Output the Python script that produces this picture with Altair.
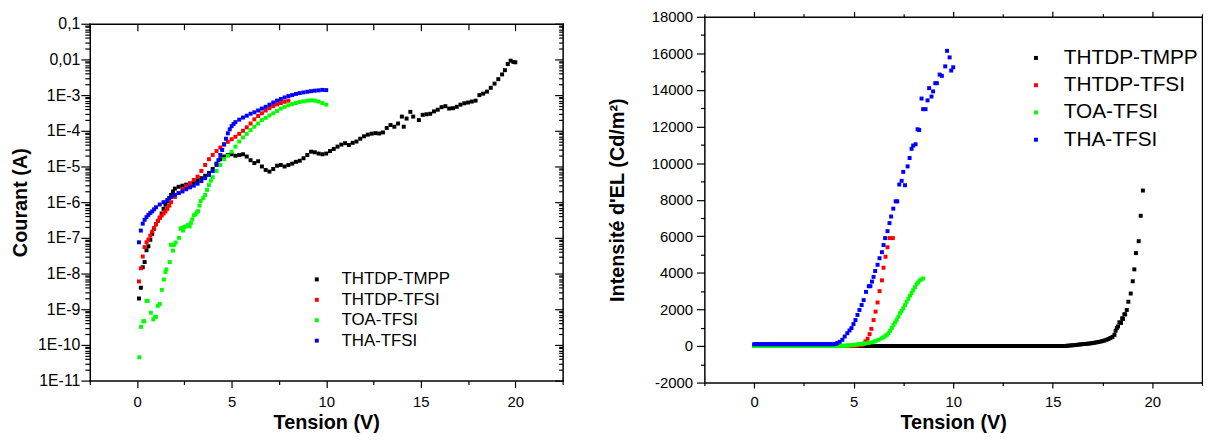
import altair as alt
import pandas as pd

SERIES = ["THTDP-TMPP", "THTDP-TFSI", "TOA-TFSI", "THA-TFSI"]
COLORS = ["#000000", "#ff0000", "#00ff00", "#0000ff"]

# ---- left panel: current (A) vs voltage (V) ----
TMPP_IV = [(0.1,2.0e-9),(0.2,4.0e-9),(0.3,1.5e-8),(0.4,2.1e-8),(0.5,4.5e-8),(0.6,5.8e-8),(0.7,8.8e-8),(0.8,1.3e-7),
 (0.9,1.8e-7),(1.0,2.4e-7),(1.1,3.0e-7),(1.2,3.7e-7),(1.3,4.8e-7),(1.4,6.5e-7),(1.5,8.5e-7),(1.6,1.05e-6),(1.7,1.3e-6),
 (1.8,1.6e-6),(1.9,2.0e-6),(2.0,2.4e-6),(2.2,2.7e-6),(2.4,2.9e-6),(2.6,3.1e-6),(2.8,3.3e-6),(3.0,3.6e-6),(3.2,4.1e-6),
 (3.4,4.7e-6),(3.6,5.5e-6),(3.8,6.6e-6),(4.0,8.5e-6),(4.2,1.2e-5),(4.4,1.6e-5),(4.6,1.9e-5),(4.8,2.1e-5),(5.0,2.2e-5),
 (5.2,2.0e-5),(5.4,2.1e-5),(5.6,2.2e-5),(5.8,1.9e-5),(6.0,1.5e-5),(6.2,1.25e-5),(6.4,1.4e-5),(6.6,1.0e-5),(6.8,8.0e-6),
 (7.0,7.2e-6),(7.2,8.5e-6),(7.4,1.05e-5),(7.6,1.1e-5),(7.8,1.0e-5),(8.0,1.1e-5),(8.2,1.2e-5),(8.4,1.35e-5),(8.6,1.45e-5),
 (8.8,1.7e-5),(9.0,2.1e-5),(9.2,2.6e-5),(9.4,2.5e-5),(9.6,2.3e-5),(9.8,2.2e-5),(10.0,2.3e-5),(10.2,2.7e-5),(10.4,3.1e-5),
 (10.6,3.6e-5),(10.8,4.1e-5),(11.0,4.5e-5),(11.2,4.0e-5),(11.4,4.6e-5),(11.6,5.0e-5),(11.8,6.0e-5),(12.0,7.0e-5),
 (12.2,7.8e-5),(12.4,8.3e-5),(12.6,8.6e-5),(12.8,8.4e-5),(13.0,9.0e-5),(13.2,1.2e-4),(13.4,1.45e-4),(13.6,1.3e-4),
 (13.8,1.6e-4),(14.0,2.5e-4),(14.1,1.3e-4),(14.25,2.2e-4),(14.45,3.4e-4),(14.6,2.5e-4),(14.9,2.0e-4),(15.1,2.8e-4),
 (15.3,2.9e-4),(15.5,3.0e-4),(15.7,3.5e-4),(15.9,3.9e-4),(16.1,4.6e-4),(16.3,4.9e-4),(16.5,4.2e-4),(16.7,4.3e-4),
 (16.9,4.7e-4),(17.1,5.4e-4),(17.3,5.9e-4),(17.5,6.2e-4),(17.7,6.6e-4),(17.9,7.0e-4),(18.1,1.0e-3),(18.3,1.1e-3),
 (18.5,1.25e-3),(18.7,1.6e-3),(18.9,2.1e-3),(19.1,2.8e-3),(19.3,3.8e-3),(19.45,5.0e-3),(19.6,7.4e-3),(19.75,9.2e-3),
 (19.9,8.5e-3),(20.0,8.3e-3)]

TFSI_IV = [(0.1,6.0e-9),(0.2,1.4e-8),(0.3,3.0e-8),(0.4,5.5e-8),(0.5,7.5e-8),(0.6,9.0e-8),(0.7,1.15e-7),(0.8,1.5e-7),
 (0.9,1.9e-7),(1.0,2.4e-7),(1.1,3.0e-7),(1.2,3.6e-7),(1.3,4.2e-7),(1.4,4.8e-7),(1.5,5.5e-7),(1.6,6.5e-7),(1.7,8.0e-7),
 (1.8,1.0e-6),(2.0,1.4e-6),(2.2,1.8e-6),(2.4,2.3e-6),(2.6,2.8e-6),(2.8,3.4e-6),(3.0,4.2e-6),(3.2,5.2e-6),(3.4,7.5e-6),
 (3.6,1.1e-5),(3.8,1.6e-5),(4.0,2.1e-5),(4.2,2.7e-5),(4.4,3.4e-5),(4.6,4.1e-5),(4.8,4.9e-5),(5.0,5.8e-5),(5.2,6.8e-5),
 (5.4,8.2e-5),(5.6,1.0e-4),(5.8,1.25e-4),(6.0,1.6e-4),(6.2,2.1e-4),(6.4,2.6e-4),(6.6,3.1e-4),(6.8,3.7e-4),(7.0,4.3e-4),
 (7.2,4.9e-4),(7.4,5.5e-4),(7.6,6.0e-4),(7.8,6.5e-4),(8.0,7.0e-4)]

TOA_IV = [(0.12,4.5e-11),(0.21,3.2e-10),(0.33,4.6e-10),(0.38,4.6e-10),(0.5,1.7e-9),(0.56,1.7e-9),(0.73,8.0e-10),
 (0.86,5.2e-10),(0.95,6.0e-10),(1.0,6.1e-10),(1.1,1.25e-9),(1.2,1.4e-9),(1.31,3.5e-9),(1.42,6.8e-9),(1.5,1.1e-8),
 (1.55,1.3e-8),(1.73,2.1e-8),(1.78,6.4e-8),(1.9,4.4e-8),(1.96,6.4e-8),(2.04,7.4e-8),(2.22,1.0e-7),(2.3,1.8e-7),
 (2.36,1.9e-7),(2.43,1.6e-7),(2.5,2.0e-7),(2.57,2.1e-7),(2.7,2.3e-7),(2.78,2.1e-7),(2.85,2.6e-7),(2.92,3.3e-7),
 (3.0,4.3e-7),(3.09,4.6e-7),(3.16,5.2e-7),(3.23,5.6e-7),(3.3,8.0e-7),(3.36,1.07e-6),(3.5,1.3e-6),(3.6,1.6e-6),
 (3.7,2.2e-6),(3.8,3.0e-6),(3.9,4.0e-6),(4.0,5.0e-6),(4.2,7.5e-6),(4.4,1.1e-5),(4.6,1.6e-5),(4.8,2.0e-5),(5.0,2.6e-5),
 (5.2,3.6e-5),(5.4,5.0e-5),(5.6,6.5e-5),(5.8,8.2e-5),(6.0,1.05e-4),(6.2,1.3e-4),(6.4,1.6e-4),(6.6,2.0e-4),(6.8,2.3e-4),
 (7.0,2.7e-4),(7.2,3.1e-4),(7.4,3.6e-4),(7.6,4.2e-4),(7.8,4.7e-4),(8.0,5.2e-4),(8.2,5.6e-4),(8.4,6.0e-4),(8.6,6.4e-4),
 (8.8,6.7e-4),(9.0,7.0e-4),(9.2,7.1e-4),(9.4,7.0e-4),(9.6,6.6e-4),(9.8,6.0e-4),(10.0,5.4e-4)]

THA_IV = [(0.1,7.5e-8),(0.2,1.6e-7),(0.3,2.5e-7),(0.4,3.2e-7),(0.5,3.8e-7),(0.6,4.4e-7),(0.7,5.0e-7),(0.8,5.5e-7),
 (0.9,6.3e-7),(1.0,7.2e-7),(1.2,8.6e-7),(1.4,1.0e-6),(1.6,1.15e-6),(1.8,1.4e-6),(2.0,1.6e-6),(2.2,1.8e-6),(2.4,2.0e-6),
 (2.6,2.3e-6),(2.8,2.6e-6),(3.0,2.9e-6),(3.2,3.3e-6),(3.4,3.9e-6),(3.6,4.7e-6),(3.8,5.8e-6),(4.0,7.5e-6),(4.2,1.1e-5),
 (4.3,1.5e-5),(4.4,2.1e-5),(4.5,2.9e-5),(4.6,4.2e-5),(4.7,6.0e-5),(4.8,8.5e-5),(4.9,1.1e-4),(5.0,1.35e-4),(5.1,1.55e-4),
 (5.2,1.75e-4),(5.4,2.05e-4),(5.6,2.35e-4),(5.8,2.65e-4),(6.0,3.0e-4),(6.2,3.3e-4),(6.4,3.7e-4),(6.6,4.2e-4),
 (6.8,4.7e-4),(7.0,5.4e-4),(7.2,6.2e-4),(7.4,7.0e-4),(7.6,7.8e-4),(7.8,8.6e-4),(8.0,9.4e-4),(8.2,1.0e-3),(8.4,1.08e-3),
 (8.6,1.14e-3),(8.8,1.19e-3),(9.0,1.24e-3),(9.2,1.29e-3),(9.4,1.33e-3),(9.6,1.36e-3),(9.8,1.4e-3),(10.0,1.38e-3)]

# ---- right panel: EL intensity (Cd/m2) vs voltage (V) ----
TMPP_EL = [(0.0,0),(0.1,0),(0.2,0),(0.3,0),(0.4,0),(0.5,0),(0.6,0),(0.7,0),(0.8,0),(0.9,0),(1.0,0),(1.1,0),(1.2,0),
 (1.3,0),(1.4,0),(1.5,0),(1.6,0),(1.7,0),(1.8,0),(1.9,0),(2.0,0),(2.1,0),(2.2,0),(2.3,0),(2.4,0),(2.5,0),(2.6,0),(2.7,0),
 (2.8,0),(2.9,0),(3.0,0),(3.1,0),(3.2,0),(3.3,0),(3.4,0),(3.5,0),(3.6,0),(3.7,0),(3.8,0),(3.9,0),(4.0,0),(4.1,0),(4.2,0),
 (4.3,0),(4.4,0),(4.5,0),(4.6,0),(4.7,0),(4.8,0),(4.9,0),(5.0,0),(5.1,0),(5.2,0),(5.3,0),(5.4,0),(5.5,0),(5.6,0),(5.7,0),
 (5.8,0),(5.9,0),(6.0,0),(6.1,0),(6.2,0),(6.3,0),(6.4,0),(6.5,0),(6.6,0),(6.7,0),(6.8,0),(6.9,0),(7.0,0),(7.1,0),(7.2,0),
 (7.3,0),(7.4,0),(7.5,0),(7.6,0),(7.7,0),(7.8,0),(7.9,0),(8.0,0),(8.1,0),(8.2,0),(8.3,0),(8.4,0),(8.5,0),(8.6,0),(8.7,0),
 (8.8,0),(8.9,0),(9.0,0),(9.1,0),(9.2,0),(9.3,0),(9.4,0),(9.5,0),(9.6,0),(9.7,0),(9.8,0),(9.9,0),(10.0,0),(10.1,0),
 (10.2,0),(10.3,0),(10.4,0),(10.5,0),(10.6,0),(10.7,0),(10.8,0),(10.9,0),(11.0,0),(11.1,0),(11.2,0),(11.3,0),(11.4,0),
 (11.5,0),(11.6,0),(11.7,0),(11.8,0),(11.9,0),(12.0,0),(12.1,0),(12.2,0),(12.3,0),(12.4,0),(12.5,0),(12.6,0),(12.7,0),
 (12.8,0),(12.9,0),(13.0,0),(13.1,0),(13.2,0),(13.3,0),(13.4,0),(13.5,0),(13.6,0),(13.7,0),(13.8,0),(13.9,0),(14.0,0),
 (14.1,0),(14.2,0),(14.3,0),(14.4,0),(14.5,0),(14.6,0),(14.7,0),(14.8,0),(14.9,0),(15.0,0),(15.1,0),(15.2,0),(15.3,0),
 (15.4,0),(15.5,0),(15.6,0),(15.7,10),(15.8,20),(15.9,30),(16.0,40),(16.1,50),
 (16.2,60),(16.3,75),(16.4,90),(16.5,100),(16.6,110),(16.7,120),(16.8,130),(16.9,145),(17.0,160),(17.1,180),(17.2,200),
 (17.3,220),(17.4,240),(17.5,270),(17.6,300),(17.7,340),(17.8,380),(17.9,440),(18.0,500),(18.1,610),
 (18.16,830),(18.22,975),(18.28,1070),(18.35,1300),(18.43,1260),(18.49,1517),(18.53,1480),(18.6,1733),(18.64,1730),
 (18.72,1970),(18.8,2420),(18.92,2870),(19.02,3540),(19.1,4190),(19.18,5080),(19.32,5730),(19.42,7120),(19.53,8500)]

TFSI_EL = [(0.0,0),(0.2,0),(0.4,0),(0.6,0),(0.8,0),(1.0,0),(1.2,0),(1.4,0),(1.6,0),(1.8,0),(2.0,0),(2.2,0),(2.4,0),
 (2.6,0),(2.8,0),(3.0,0),(3.2,0),(3.4,0),(3.6,0),(3.8,0),(4.0,0),(4.2,0),(4.4,0),(4.6,0),(4.8,0),(5.0,0),(5.2,20),(5.4,50),
 (5.5,100),(5.59,255),(5.7,400),(5.8,650),(5.89,940),(6.0,1420),(6.1,1880),(6.2,2380),(6.3,3000),(6.42,3590),(6.5,4280),
 (6.6,4880),(6.7,5400),(6.8,5900),(6.97,5900)]

TOA_EL = [(0.0,0),(0.1,0),(0.2,0),(0.3,0),(0.4,0),(0.5,0),(0.6,0),(0.7,0),(0.8,0),(0.9,0),(1.0,0),(1.1,0),(1.2,0),
 (1.3,0),(1.4,0),(1.5,0),(1.6,0),(1.7,0),(1.8,0),(1.9,0),(2.0,0),(2.1,0),(2.2,0),(2.3,0),(2.4,0),(2.5,0),(2.6,0),(2.7,0),
 (2.8,0),(2.9,0),(3.0,0),(3.1,0),(3.2,0),(3.3,0),(3.4,0),(3.5,0),(3.6,0),(3.7,0),(3.8,0),(3.9,0),(4.0,0),(4.1,0),(4.2,0),
 (4.3,5),(4.4,10),(4.5,15),(4.6,20),(4.7,30),(4.8,40),(4.9,50),(5.0,55),(5.1,70),
 (5.2,90),(5.3,110),(5.4,120),(5.5,130),(5.6,145),(5.75,165),(5.9,200),(6.0,230),(6.1,270),(6.25,340),(6.4,420),
 (6.5,480),(6.6,560),(6.67,610),(6.75,700),(6.83,830),(6.92,990),(7.0,1150),(7.08,1290),(7.16,1430),(7.25,1600),
 (7.33,1790),(7.41,1920),(7.49,2060),(7.58,2240),(7.66,2420),(7.75,2580),(7.83,2750),(7.91,2900),(7.99,3050),
 (8.08,3210),(8.16,3380),(8.24,3480),(8.32,3590),(8.4,3640),(8.49,3690)]

THA_EL = [(0.0,100),(0.1,100),(0.2,100),(0.3,100),(0.4,100),(0.5,100),(0.6,100),(0.7,100),(0.8,100),(0.9,100),
 (1.0,100),(1.1,100),(1.2,100),(1.3,100),(1.4,100),(1.5,100),(1.6,100),(1.7,100),(1.8,100),(1.9,100),(2.0,100),
 (2.1,100),(2.2,100),(2.3,100),(2.4,100),(2.5,100),(2.6,100),(2.7,100),(2.8,100),(2.9,100),(3.0,100),(3.1,100),
 (3.2,100),(3.3,100),(3.4,100),(3.5,100),(3.6,100),(3.7,100),(3.8,100),(3.9,100),(4.0,100),(4.1,120),
 (4.18,160),(4.3,230),(4.43,340),(4.55,520),(4.68,700),(4.79,850),(4.89,980),(4.99,1200),(5.09,1420),(5.19,1700),
 (5.29,1970),(5.4,2240),(5.5,2510),(5.62,2960),(5.76,3270),(5.84,3270),(5.92,3520),(6.0,3780),(6.08,4100),(6.2,4440),
 (6.3,4800),(6.42,5130),(6.5,5520),(6.58,5900),(6.7,6280),(6.8,6720),(6.88,7080),(6.99,7510),(7.11,7910),(7.19,7910),
 (7.29,8830),(7.41,9030),(7.49,9520),(7.58,8790),(7.71,9820),(7.81,10280),(7.91,10780),(7.99,10960),(8.11,11030),
 (8.21,11850),(8.29,11810),(8.41,13530),(8.49,12950),(8.61,12950),(8.71,13430),(8.79,14100),(8.91,13640),(8.99,13920),
 (9.1,14370),(9.18,14370),(9.32,14840),(9.43,14770),(9.6,15290),(9.69,16140),(9.82,15780),(9.9,15060),(10.0,15240)]


def frame(groups, col):
    rows = []
    for name, pairs in zip(SERIES, groups):
        for v, y in pairs:
            rows.append({"series": name, "V": v, col: y})
    return pd.DataFrame(rows)


iv = frame([TMPP_IV, TFSI_IV, TOA_IV, THA_IV], "I")
el = frame([TMPP_EL, TFSI_EL, TOA_EL, THA_EL], "L")

FONT = "Liberation Sans"
X_TICKS = [-2.5 + 2.5 * i for i in range(11)]
LOG_TICKS = [10.0 ** k for k in range(-11, 0)] + [m * 10.0 ** k for k in range(-11, -1) for m in range(2, 10)]
EL_TICKS = [-2000 + 1000 * i for i in range(21)]

IS_X_MAJ = "abs(datum.value % 5) < 0.001"
IS_LOG_MAJ = "abs(log(datum.value)/LN10 - round(log(datum.value)/LN10)) < 0.001"
IS_EL_MAJ = "abs(datum.value % 2000) < 0.5"


def cond(test, a, b):
    return {"condition": {"test": test, "value": a}, "value": b}


color_scale = alt.Scale(domain=SERIES, range=COLORS)

# ---------------- left panel ----------------
L_W, L_H, L_TOP = 477, 367, 7   # plot frame starts L_TOP px below the view top
xs_l = alt.Scale(domain=[-2.5, 22.5], nice=False, zero=False)
ys_l = alt.Scale(type="log", domain=[1e-11, 0.1], nice=False, range=[L_H, L_TOP])

left_main = alt.Chart(iv).mark_square(size=16, opacity=1).encode(
    x=alt.X("V:Q", scale=xs_l, axis=alt.Axis(
        orient="bottom", values=X_TICKS, labelExpr=IS_X_MAJ + " ? '' + datum.value : ''",
        tickSize=cond(IS_X_MAJ, 7, 4), labelPadding=7, labelFontSize=15,
        title="Tension (V)", titlePadding=3.3)),
    y=alt.Y("I:Q", scale=ys_l, axis=alt.Axis(
        orient="left", values=LOG_TICKS,
        labelExpr=IS_LOG_MAJ + " ? (datum.value > 0.05 ? '0,1' : (datum.value > 0.005 ? '0,01' : '1E' + round(log(datum.value)/LN10))) : ''",
        tickSize=cond(IS_LOG_MAJ, 9, 5), labelPadding=1, labelFontSize=16,
        title="Courant (A)", titlePadding=7)),
    color=alt.Color("series:N", scale=color_scale, legend=alt.Legend(
        orient="none", legendX=220.5, legendY=256.4, title=None, symbolType="square",
        symbolSize=16, symbolStrokeWidth=0, labelFontSize=17, labelFont=FONT, labelColor="black",
        labelOffset=16.4, rowPadding=2.6, padding=0, labelLimit=400)),
)

left_mirror = alt.Chart(iv).mark_square(size=16, opacity=0).encode(
    x=alt.X("V:Q", scale=xs_l, axis=alt.Axis(
        orient="top", offset=-L_TOP, values=X_TICKS, labels=False,
        tickSize=cond(IS_X_MAJ, -7, -6), title="")),
    y=alt.Y("I:Q", scale=ys_l, axis=alt.Axis(
        orient="right", values=LOG_TICKS, labels=False,
        tickSize=cond(IS_LOG_MAJ, -8, -4), title="")),
)

left = alt.layer(left_main, left_mirror).resolve_axis(
    x="independent", y="independent").properties(width=L_W, height=L_H)

# ---------------- right panel ----------------
xs_r = alt.Scale(domain=[-2.5, 22.5], nice=False, zero=False)
ys_r = alt.Scale(domain=[-2000, 18000], nice=False, zero=False)

right_main = alt.Chart(el).mark_square(size=16, opacity=1).encode(
    x=alt.X("V:Q", scale=xs_r, axis=alt.Axis(
        orient="bottom", values=X_TICKS, labelExpr=IS_X_MAJ + " ? '' + datum.value : ''",
        tickSize=cond(IS_X_MAJ, 5.5, 3), labelPadding=6.5, labelFontSize=15,
        title="Tension (V)", titlePadding=3.3)),
    y=alt.Y("L:Q", scale=ys_r, axis=alt.Axis(
        orient="left", values=EL_TICKS, labelExpr=IS_EL_MAJ + " ? '' + datum.value : ''",
        tickSize=cond(IS_EL_MAJ, 8, 4), labelPadding=4, labelFontSize=15,
        title="Intensité d'EL (Cd/m²)", titlePadding=23.5)),
    color=alt.Color("series:N", scale=color_scale, legend=alt.Legend(
        orient="none", legendX=324, legendY=31, title=None, symbolType="square",
        symbolSize=16, symbolStrokeWidth=0, labelFontSize=21, labelFont=FONT, labelColor="black",
        labelOffset=17.5, rowPadding=5.5, padding=0, labelLimit=400)),
)

right_mirror = alt.Chart(el).mark_square(size=16, opacity=0).encode(
    x=alt.X("V:Q", scale=xs_r, axis=alt.Axis(
        orient="top", values=X_TICKS, labels=False,
        tickSize=cond(IS_X_MAJ, 5.5, 3), title="")),
    y=alt.Y("L:Q", scale=ys_r, axis=alt.Axis(
        orient="right", labels=False, ticks=False, title="")),
)

right = alt.layer(right_main, right_mirror).resolve_axis(
    x="independent", y="independent").properties(width=502, height=369)

chart = alt.concat(left, right, columns=2, spacing=44, align="none").resolve_scale(
    color="independent").properties(
    padding={"left": 2.5, "top": 0, "right": 0, "bottom": 0},
    background="white",
).configure_view(
    strokeWidth=0
).configure_axis(
    labelFont=FONT, titleFont=FONT, labelColor="black", titleColor="black",
    titleFontWeight="bold", titleFontSize=20, domainColor="black", domainWidth=1.5,
    domainCap="square", tickColor="black", tickWidth=1.2, grid=False,
    labelOverlap=False, labelFlush=False,
)

chart.save("out.html", embed_options={"renderer": "svg", "actions": False})
